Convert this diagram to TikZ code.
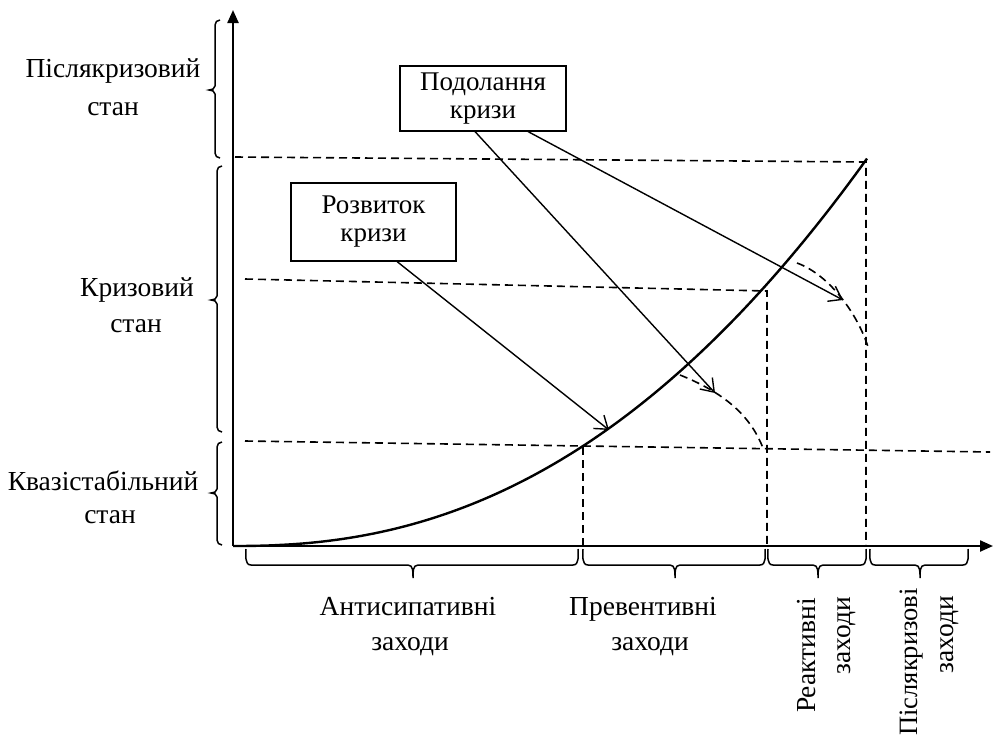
\documentclass[tikz,border=0pt]{standalone}
\usepackage{fontspec}
\setmainfont{Liberation Serif}
\usetikzlibrary{arrows.meta}
\newcommand{\statebr}[4]{%
  \draw[brk] (#1+5,#2) to[out=180,in=90] (#1,#2+5) -- (#1,#3-4) to[out=-90,in=0] (#1-6,#3)
    to[out=0,in=90] (#1,#3+4) -- (#1,#4-5) to[out=-90,in=180] (#1+5,#4);}
\newcommand{\actbr}[3]{%
  \draw[brk] (#1,549) to[out=-90,in=180] (#1+5,565) -- (#3-5,565) to[out=0,in=90] (#3,578)
    to[out=90,in=180] (#3+5,565) -- (#2-5,565) to[out=0,in=-90] (#2,549);}
\begin{document}
\begin{tikzpicture}[x=1pt,y=-1pt,
  lbl/.style={font=\fontsize{27.5}{30}\selectfont, inner sep=0pt, anchor=base},
  box/.style={draw, line width=1.1pt, align=center, font=\fontsize{27}{28}\selectfont, inner sep=0pt},
  axis/.style={line width=2.3pt, -{Triangle[length=13pt,width=11pt]}},
  guide/.style={dash pattern=on 8pt off 5pt, line width=1.6pt},
  curvel/.style={line width=2.4pt},
  ptr/.style={line width=1.4pt, -{Straight Barb[length=12pt,width=17pt]}},
  brk/.style={line width=1.5pt}]
\useasboundingbox (0,0) rectangle (993,742);

% axes
\coordinate (O) at (233,546);
\coordinate (Ytop) at (233,10);
\coordinate (Xend) at (993,546);
\draw[axis] (O) -- (Ytop);
\draw[axis] (O) -- (Xend);

% guides
\coordinate (g1a) at (235,157); \coordinate (g1b) at (866,162); \coordinate (g1c) at (866,546);
\coordinate (g2a) at (245,279); \coordinate (g2b) at (767,291); \coordinate (g2c) at (767,546);
\coordinate (g3a) at (245,441); \coordinate (g3b) at (990,452);
\coordinate (g4a) at (583,447); \coordinate (g4b) at (583,546);
\draw[guide] (g1a) -- (g1b) -- (g1c);
\draw[guide] (g2a) -- (g2b) -- (g2c);
\draw[guide] (g3a) -- (g3b);
\draw[guide] (g4a) -- (g4b);

% curve
\draw[curvel] (O) -- plot[domain=234:867,samples=100] (\x,{546-100*pow((\x-233)/350,2.28)});

% dashed arcs
\coordinate (a1s) at (680,375); \coordinate (a1e) at (763,448);
\coordinate (a2s) at (797,263); \coordinate (a2e) at (868,347);
\draw[guide] (a1s) .. controls (730,395) and (752,420) .. (a1e);
\draw[guide] (a2s) .. controls (830,275) and (858,315) .. (a2e);

% boxes
\node[box, minimum width=166pt, minimum height=65pt] (pod) at (483,98.5) {Подолання\\кризи};
\node[box, minimum width=165pt, minimum height=78pt] (roz) at (373.5,222) {Розвиток\\кризи};

% arrows
\coordinate (t1) at (609,430);
\coordinate (t2) at (715,393);
\coordinate (t3) at (843,300);
\draw[ptr] ([xshift=23.5pt]roz.south) -- (t1);
\draw[ptr] ([xshift=-8pt]pod.south) -- (t2);
\draw[ptr] ([xshift=45pt]pod.south) -- (t3);

% state braces
\statebr{215}{20}{90}{158}
\statebr{217}{166}{300}{432}
\statebr{217}{442}{493}{545}

% action braces
\actbr{246}{578}{413}
\actbr{583}{765}{675}
\actbr{768}{866}{818}
\actbr{870}{968}{920}

% state labels
\node[lbl] (s1a) at (113,77) {Післякризовий};
\node[lbl] (s1b) at (113,115) {стан};
\node[lbl] (s2a) at (137,296) {Кризовий};
\node[lbl] (s2b) at (136,332) {стан};
\node[lbl] (s3a) at (103,490) {Квазістабільний};
\node[lbl] (s3b) at (110,523) {стан};

% action labels
\node[lbl] (m1a) at (408,615) {Антисипативні};
\node[lbl] (m1b) at (410,650) {заходи};
\node[lbl] (m2a) at (643,615) {Превентивні};
\node[lbl] (m2b) at (650,650) {заходи};
\node[lbl, rotate=90, anchor=base east] (m3a) at (815,598) {Реактивні};
\node[lbl, rotate=90, anchor=base east] (m3b) at (850,597) {заходи};
\node[lbl, rotate=90, anchor=base east, font=\fontsize{26.5}{30}\selectfont] (m4a) at (917,588) {Післякризові};
\node[lbl, rotate=90, anchor=base east] (m4b) at (953,596) {заходи};
\end{tikzpicture}
\end{document}
